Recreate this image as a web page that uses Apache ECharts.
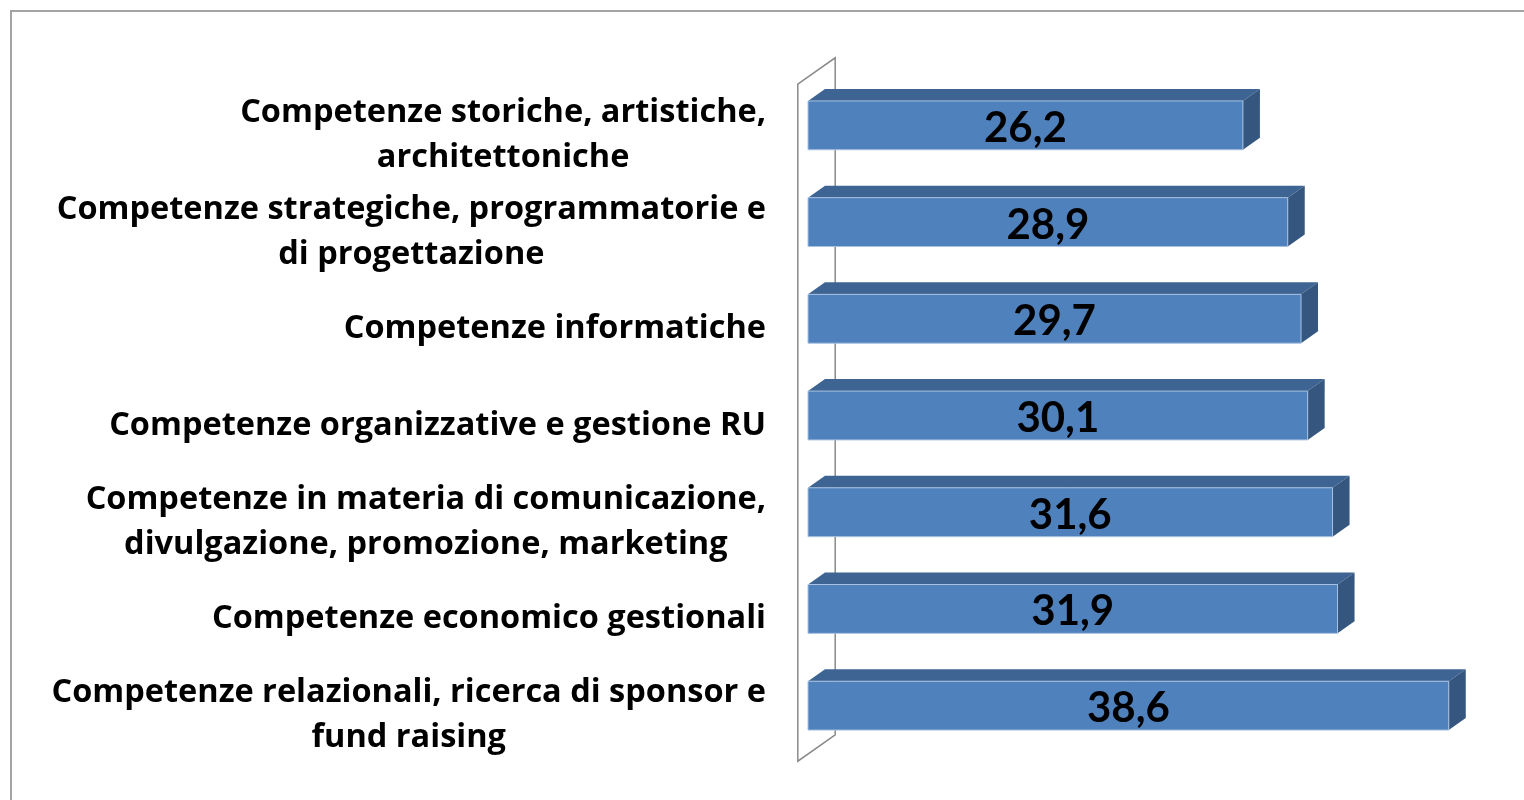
<!DOCTYPE html>
<html>
<head>
<meta charset="utf-8">
<script src="https://cdn.jsdelivr.net/npm/echarts@6/dist/echarts.min.js"></script>
<style>
  html, body { margin: 0; padding: 0; background: #fff; overflow: hidden; }
  #main { width: 1524px; height: 800px; }
</style>
</head>
<body>
<div id="main"></div>
<script>
// categories top to bottom, as in the picture
const categories = [
  'Competenze storiche, artistiche,\narchitettoniche',
  'Competenze strategiche, programmatorie e\ndi progettazione',
  'Competenze informatiche',
  'Competenze organizzative e gestione RU',
  'Competenze in materia di comunicazione,\ndivulgazione, promozione, marketing',
  'Competenze economico gestionali',
  'Competenze relazionali, ricerca di sponsor e\nfund raising'
];
const values = [26.2, 28.9, 29.7, 30.1, 31.6, 31.9, 38.6];

// 3d depth of a bar (screen px)
const DEPTH = [17, -12];

const chart = echarts.init(document.getElementById('main'));

function renderBar(params, api) {
  const cat = api.value(1);
  const val = api.value(0);
  const p0 = api.coord([0, cat]);
  const p1 = api.coord([val, cat]);
  const h = api.size([0, 1])[1] * 0.505;
  const x = p0[0], y = p0[1] - h / 2, w = p1[0] - p0[0];
  const dx = DEPTH[0], dy = DEPTH[1];
  const children = [];

  // side wall at value 0, drawn once behind the bars
  if (params.dataIndex === 0) {
    const cs = params.coordSys;
    const fx = cs.x - 0.6 * dx, fy = cs.y - 0.6 * dy;
    const bx = cs.x + 1.6 * dx, by = cs.y + 1.6 * dy;
    children.push({
      type: 'polygon',
      z2: -10,
      shape: { points: [[fx, fy], [bx, by], [bx, by + cs.height], [fx, fy + cs.height]] },
      style: { fill: '#fff', stroke: '#8a8a8a', lineWidth: 1.5 }
    });
  }

  children.push({
    type: 'polygon',
    shape: { points: [[x, y], [x + dx, y + dy], [x + w + dx, y + dy], [x + w, y]] },
    style: { fill: '#3d6492' }
  });
  children.push({
    type: 'polygon',
    shape: { points: [[x + w, y], [x + w + dx, y + dy], [x + w + dx, y + h + dy], [x + w, y + h]] },
    style: { fill: '#35577f' }
  });
  children.push({
    type: 'rect',
    shape: { x: x, y: y, width: w, height: h },
    style: { fill: '#4f81bd', stroke: '#a9c1e0', lineWidth: 1 }
  });
  children.push({
    type: 'text',
    style: {
      x: x + w / 2,
      y: y + h / 2 + 3,
      text: String(val).replace('.', ','),
      align: 'center',
      verticalAlign: 'middle',
      fill: '#000',
      font: 'bold 42px Lato'
    }
  });
  return { type: 'group', children: children };
}

chart.setOption({
  animation: false,
  graphic: [{
    type: 'rect',
    shape: { x: 11, y: 11, width: 1700, height: 1000 },
    style: { fill: 'none', stroke: '#a3a3a3', lineWidth: 2 },
    silent: true
  }],
  grid: [
    // plane of the bars
    { left: 808, top: 77, width: 664, height: 677 },
    // front plane of the wall, where the category labels sit
    { left: 798, top: 87, width: 664, height: 677 }
  ],
  xAxis: [
    { type: 'value', min: 0, max: 40, show: false, gridIndex: 0 },
    { type: 'value', min: 0, max: 40, show: false, gridIndex: 1 }
  ],
  yAxis: [
    {
      type: 'category',
      gridIndex: 0,
      inverse: true,
      data: categories,
      show: false
    },
    {
      type: 'category',
      gridIndex: 1,
      inverse: true,
      data: categories,
      axisLine: { show: false },
      axisTick: { show: false },
      splitLine: { show: false },
      axisLabel: {
        interval: 0,
        margin: 32,
        align: 'right',
        color: '#000',
        fontFamily: 'Open Sans',
        fontWeight: 'bold',
        fontSize: 32.5,
        lineHeight: 45,
        formatter: (v) => v.split('\n').map((l) => '{c|' + l + '}').join('\n'),
        rich: {
          c: {
            align: 'center',
            color: '#000',
            fontFamily: 'Open Sans',
            fontWeight: 'bold',
            fontSize: 32.5,
            lineHeight: 45
          }
        }
      }
    }
  ],
  series: [{
    type: 'custom',
    xAxisIndex: 0,
    yAxisIndex: 0,
    renderItem: renderBar,
    encode: { x: 0, y: 1 },
    data: values.map((v, i) => [v, i])
  }]
});
</script>
</body>
</html>
